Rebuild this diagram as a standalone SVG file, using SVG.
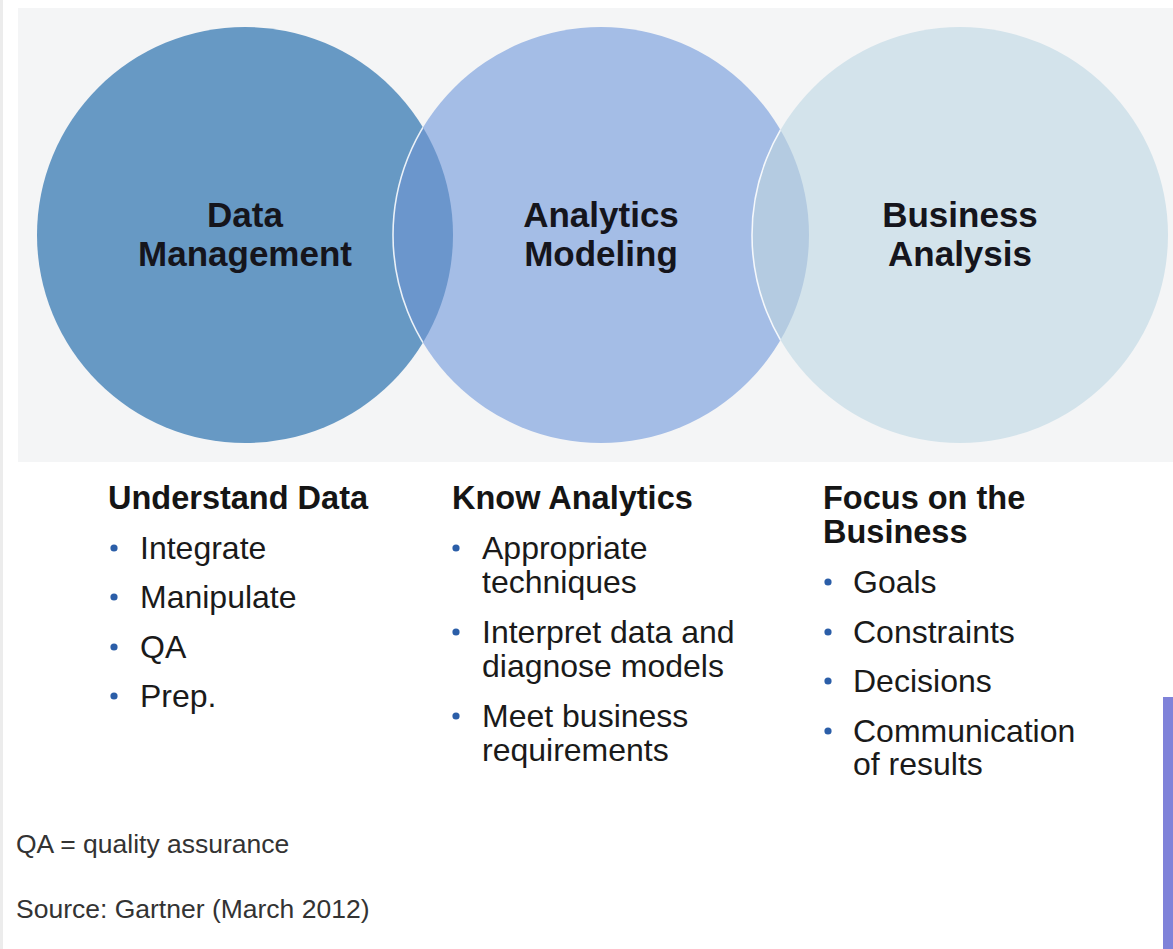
<svg xmlns="http://www.w3.org/2000/svg" width="1173" height="949" viewBox="0 0 1173 949">
  <style>
    .title { font-family: "Liberation Sans", Arial, sans-serif; font-weight: bold; font-size: 35px; fill: #15151c; text-anchor: middle; }
    .head { font-family: "Liberation Sans", Arial, sans-serif; font-weight: bold; font-size: 32.5px; fill: #151515; }
    .item { font-family: "Liberation Sans", Arial, sans-serif; font-size: 32px; fill: #1a1a1a; }
    .note { font-family: "Liberation Sans", Arial, sans-serif; font-size: 26.5px; fill: #333333; }
    .bullet { fill: #2b5ea8; }
    .ring { fill: none; stroke: #ffffff; stroke-width: 1.6; stroke-opacity: 0.85; }
  </style>
  <defs>
    <clipPath id="clipLeft"><circle cx="245" cy="235" r="208"/></clipPath>
    <clipPath id="clipMid"><circle cx="601" cy="235" r="208"/></clipPath>
  </defs>
  <rect x="0" y="0" width="1173" height="949" fill="#ffffff"/>
  <rect x="0" y="0" width="3" height="949" fill="#ececec"/>
  <rect x="18" y="8" width="1155" height="454" fill="#f4f5f6"/>

  <g id="node-data-management">
    <circle cx="245" cy="235" r="208" fill="#6799c4"/>
    <text class="title" x="245" y="227">Data</text>
    <text class="title" x="245" y="266">Management</text>
  </g>
  <g id="node-analytics-modeling">
    <circle cx="601" cy="235" r="208" fill="#a4bde6"/>
    <circle cx="601" cy="235" r="208" fill="#6b96cc" clip-path="url(#clipLeft)"/>
    <circle cx="601" cy="235" r="208" class="ring" clip-path="url(#clipLeft)"/>
    <text class="title" x="601" y="227">Analytics</text>
    <text class="title" x="601" y="266">Modeling</text>
  </g>
  <g id="node-business-analysis">
    <circle cx="960" cy="235" r="208" fill="#d3e3eb"/>
    <circle cx="960" cy="235" r="208" fill="#b4cbe1" clip-path="url(#clipMid)"/>
    <circle cx="960" cy="235" r="208" class="ring" clip-path="url(#clipMid)"/>
    <text class="title" x="960" y="227">Business</text>
    <text class="title" x="960" y="266">Analysis</text>
  </g>
  <g id="connectors"></g>

  <g id="list-understand-data">
    <text class="head" x="108" y="509">Understand Data</text>
    <circle class="bullet" cx="114" cy="548" r="3.6"/>
    <text class="item" x="140" y="559">Integrate</text>
    <circle class="bullet" cx="114" cy="597" r="3.6"/>
    <text class="item" x="140" y="608">Manipulate</text>
    <circle class="bullet" cx="114" cy="647" r="3.6"/>
    <text class="item" x="140" y="658">QA</text>
    <circle class="bullet" cx="114" cy="696" r="3.6"/>
    <text class="item" x="140" y="707">Prep.</text>
  </g>

  <g id="list-know-analytics">
    <text class="head" x="452" y="509">Know Analytics</text>
    <circle class="bullet" cx="456" cy="548" r="3.6"/>
    <text class="item" x="482" y="559">Appropriate</text>
    <text class="item" x="482" y="593">techniques</text>
    <circle class="bullet" cx="456" cy="632" r="3.6"/>
    <text class="item" x="482" y="643">Interpret data and</text>
    <text class="item" x="482" y="677">diagnose models</text>
    <circle class="bullet" cx="456" cy="716" r="3.6"/>
    <text class="item" x="482" y="727">Meet business</text>
    <text class="item" x="482" y="761">requirements</text>
  </g>

  <g id="list-focus-business">
    <text class="head" x="823" y="509">Focus on the</text>
    <text class="head" x="823" y="543">Business</text>
    <circle class="bullet" cx="828" cy="582" r="3.6"/>
    <text class="item" x="853" y="593">Goals</text>
    <circle class="bullet" cx="828" cy="632" r="3.6"/>
    <text class="item" x="853" y="643">Constraints</text>
    <circle class="bullet" cx="828" cy="681" r="3.6"/>
    <text class="item" x="853" y="692">Decisions</text>
    <circle class="bullet" cx="828" cy="731" r="3.6"/>
    <text class="item" x="853" y="742">Communication</text>
    <text class="item" x="853" y="775">of results</text>
  </g>

  <text class="note" x="16" y="853">QA = quality assurance</text>
  <text class="note" x="16" y="918">Source: Gartner (March 2012)</text>

  <rect x="1163" y="697" width="10" height="252" fill="#7f82d9"/>
</svg>
